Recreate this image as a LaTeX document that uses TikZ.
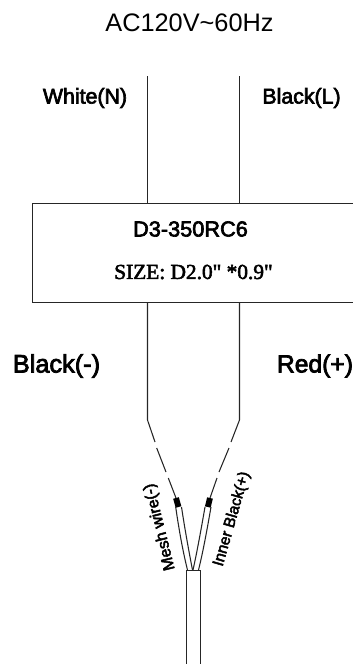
\documentclass[tikz,border=0pt]{standalone}
\usepackage{fontspec}
\newfontfamily\capfont[FakeBold=3]{Liberation Sans}
\newfontfamily\sizefont[FakeBold=2.5]{Liberation Serif}
\setsansfont{Liberation Sans}
\begin{document}
\begin{tikzpicture}[
    x = 0.75pt,
    y = -0.75pt,
    wire/.style = {solid, line width=0.8pt, black!85},
    tip/.style = {solid, line width=4.4pt, black},
    label/.style = {inner sep=0pt, outer sep=0pt},
]

\useasboundingbox (0,0) rectangle (353,664);

\node[label, font=\sffamily\fontsize{19}{22}\selectfont] (mains) at (189.5,23){AC120V\textasciitilde60Hz};
\node[label, font=\capfont\fontsize{16}{18}\selectfont] (white) at (85,98){White(N)};
\node[label, font=\capfont\fontsize{16}{18}\selectfont] (black) at (301.5,98){Black(L)};
\node[label, font=\capfont\fontsize{16.3}{18}\selectfont] (model) at (190.5,229){D3-350RC6};
\node[label, font=\sizefont\fontsize{16}{18}\selectfont] (size) at (193.5,272){SIZE: D2.0" *0.9"};
\node[label, font=\capfont\fontsize{19}{22}\selectfont] (minus) at (56.5,366){Black(-)};
\node[label, font=\capfont\fontsize{18.5}{22}\selectfont] (plus) at (315,366){Red(+)};
\node[label, font=\capfont\fontsize{12}{14}\selectfont, rotate=104] (mesh) at (160,527){Mesh wire(-)};
\node[label, font=\capfont\fontsize{11.7}{14}\selectfont, rotate=74] (inner) at (232,519){Inner Black(+)};

\coordinate (box_a) at (32.5,203.5);
\coordinate (box_b) at (356,302.5);
\coordinate (l_top) at (147.5,76);
\coordinate (r_top) at (239.5,76);
\coordinate (l_in) at (147.5,203.5);
\coordinate (r_in) at (239.5,203.5);
\coordinate (l_out) at (147.5,302.5);
\coordinate (r_out) at (239.5,302.5);
\coordinate (l_bend) at (147.5,420);
\coordinate (r_bend) at (239.5,420);
\coordinate (l_1) at (155,442);
\coordinate (l_2) at (156.7,448);
\coordinate (l_3) at (166,472);
\coordinate (l_4) at (168.3,478);
\coordinate (l_5) at (176,498);
\coordinate (l_6) at (178.5,507);
\coordinate (r_1) at (231,442);
\coordinate (r_2) at (229,448);
\coordinate (r_3) at (219,472);
\coordinate (r_4) at (217,478);
\coordinate (r_5) at (210,498);
\coordinate (r_6) at (207.8,507);
\coordinate (cable_l) at (186.5,570.5);
\coordinate (cable_r) at (200.5,570.5);
\coordinate (cable_ll) at (186.5,664);
\coordinate (cable_rr) at (200.5,664);

\draw [wire] (box_a) rectangle (box_b);
\draw [wire] (l_top) -- (l_in);
\draw [wire] (r_top) -- (r_in);
\draw [wire] (l_out) -- (l_bend) -- (l_1);
\draw [wire] (r_out) -- (r_bend) -- (r_1);
\draw [wire] (l_2) -- (l_3);
\draw [wire] (r_2) -- (r_3);
\draw [wire] (l_4) -- (l_5);
\draw [wire] (r_4) -- (r_5);
\draw [tip] (l_5) -- (l_6);
\draw [tip] (r_5) -- (r_6);

% split ends of the cable
\draw [wire] (175.7,507) .. controls (179,530) and (183,552) .. (187.5,570);
\draw [wire] (181.5,507) .. controls (185,530) and (189,552) .. (192.5,570);
\draw [wire] (205,507) .. controls (201,530) and (197,552) .. (193,570);
\draw [wire] (211,507) .. controls (207,530) and (203,552) .. (198.5,570);

\draw [wire] (cable_ll) -- (cable_l) -- (cable_r) -- (cable_rr);

\end{tikzpicture}
\end{document}
